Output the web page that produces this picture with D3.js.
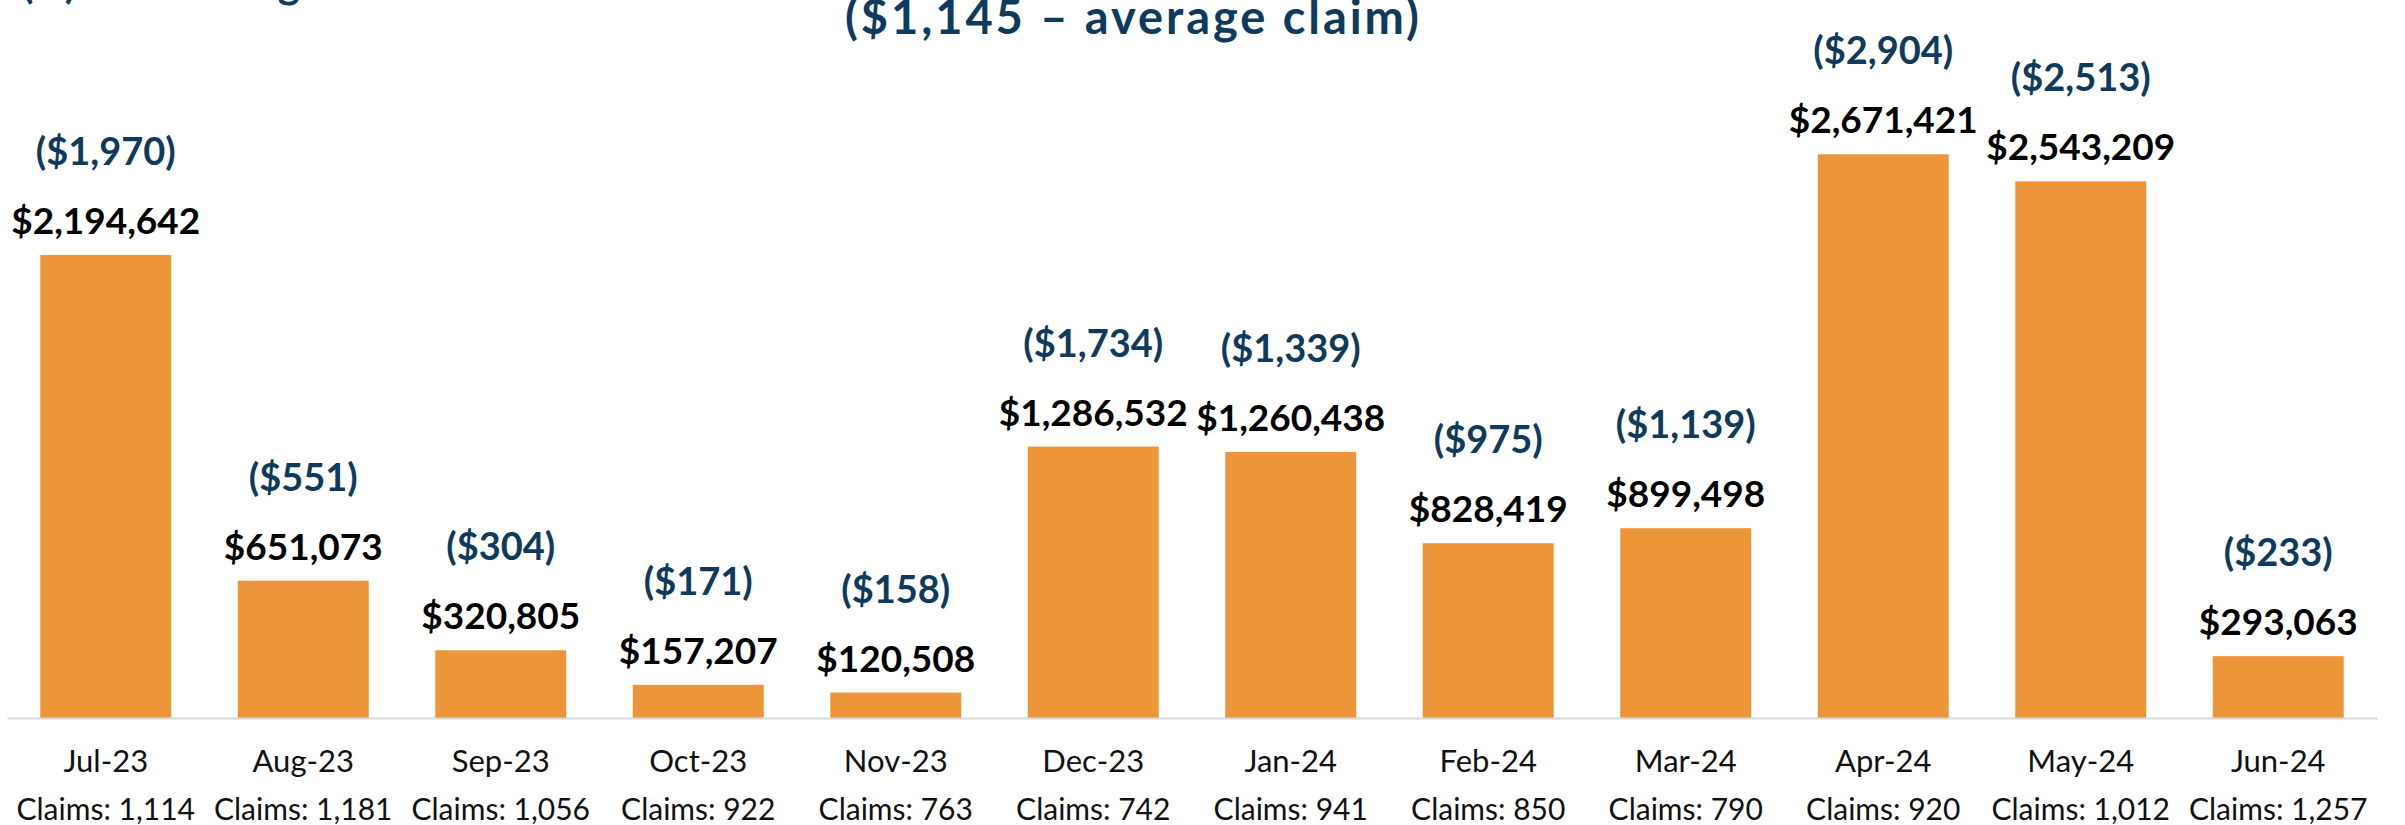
<!DOCTYPE html>
<html>
<head>
<meta charset="utf-8">
<script src="https://cdn.jsdelivr.net/npm/d3@7"></script>
<style>
  html, body { margin: 0; padding: 0; background: #ffffff; }
  svg { display: block; }
  text { font-family: Lato, "Open Sans", sans-serif; }
</style>
</head>
<body>
<svg id="chart" width="2405" height="825"></svg>
<script>
// Monthly incurred losses with claim counts and average claim size
const months = ["Jul-23", "Aug-23", "Sep-23", "Oct-23", "Nov-23", "Dec-23",
                "Jan-24", "Feb-24", "Mar-24", "Apr-24", "May-24", "Jun-24"];
const totalLoss = [2194642, 651073, 320805, 157207, 120508, 1286532,
                   1260438, 828419, 899498, 2671421, 2543209, 293063];
const avgClaim = [1970, 551, 304, 171, 158, 1734, 1339, 975, 1139, 2904, 2513, 233];
const claimCounts = [1114, 1181, 1056, 922, 763, 742, 941, 850, 790, 920, 1012, 1257];
const yDomain = [0, 3000000];

const rows = months.map((m, i) => ({
  month: m, total: totalLoss[i], avg: avgClaim[i], claims: claimCounts[i]
}));

const svg = d3.select("#chart");

const x = d3.scaleBand()
  .domain(months)
  .range([7, 2377])
  .paddingInner(0.337)
  .paddingOuter(0.1685);

const y = d3.scaleLinear()
  .domain(yDomain)
  .range([718, 85]);

const money = d3.format("$,.0f");
const count = d3.format(",");

const navy = "#0f3a5d";
const orange = "#ed9639";

// Overall average across the year, shown as the subtitle
const overallAvg = d3.sum(totalLoss) / d3.sum(claimCounts);

// Title lines (the upper part sits above the visible area)
svg.append("text")
  .attr("x", 22).attr("y", -2)
  .attr("fill", navy)
  .attr("font-weight", 700)
  .attr("font-size", 42)
  .attr("textLength", 278)
  .attr("lengthAdjust", "spacing")
  .text("(1) Excluding");

svg.append("text")
  .attr("x", 1132).attr("y", 34)
  .attr("text-anchor", "middle")
  .attr("fill", navy)
  .attr("font-weight", 700)
  .attr("font-size", 47)
  .attr("textLength", 574)
  .attr("lengthAdjust", "spacing")
  .text(`(${money(overallAvg)} \u2013 average claim)`);

// Bars
svg.append("g")
  .selectAll("rect")
  .data(rows)
  .join("rect")
  .attr("x", d => x(d.month))
  .attr("width", x.bandwidth())
  .attr("y", d => y(d.total))
  .attr("height", d => y(0) - y(d.total))
  .attr("fill", orange);

// Baseline axis
const xAxis = d3.axisBottom(x).tickSize(0).tickFormat("");
const axisG = svg.append("g")
  .attr("transform", `translate(0,${y(0)})`)
  .call(xAxis);
axisG.select(".domain").attr("stroke", "#d9d9d9").attr("stroke-width", 2);

// Category labels: month and claim count
const labels = svg.append("g");
labels.selectAll("text.month")
  .data(rows)
  .join("text")
  .attr("class", "month")
  .attr("x", d => x(d.month) + x.bandwidth() / 2)
  .attr("y", y(0) + 54)
  .attr("text-anchor", "middle")
  .attr("font-size", 31)
  .attr("fill", "#111")
  .text(d => d.month);

labels.selectAll("text.claims")
  .data(rows)
  .join("text")
  .attr("class", "claims")
  .attr("x", d => x(d.month) + x.bandwidth() / 2)
  .attr("y", y(0) + 102)
  .attr("text-anchor", "middle")
  .attr("font-size", 30)
  .attr("fill", "#111")
  .text(d => `Claims: ${count(d.claims)}`);

// Value labels above each bar
const vals = svg.append("g");
vals.selectAll("text.total")
  .data(rows)
  .join("text")
  .attr("class", "total")
  .attr("x", d => x(d.month) + x.bandwidth() / 2)
  .attr("y", d => y(d.total) - 21)
  .attr("text-anchor", "middle")
  .attr("font-size", 37)
  .attr("font-weight", 700)
  .attr("fill", "#000")
  .text(d => money(d.total));

vals.selectAll("text.avg")
  .data(rows)
  .join("text")
  .attr("class", "avg")
  .attr("x", d => x(d.month) + x.bandwidth() / 2)
  .attr("y", d => y(d.total) - 90)
  .attr("text-anchor", "middle")
  .attr("font-size", 38)
  .attr("font-weight", 700)
  .attr("fill", navy)
  .text(d => `(${money(d.avg)})`);
</script>
</body>
</html>
